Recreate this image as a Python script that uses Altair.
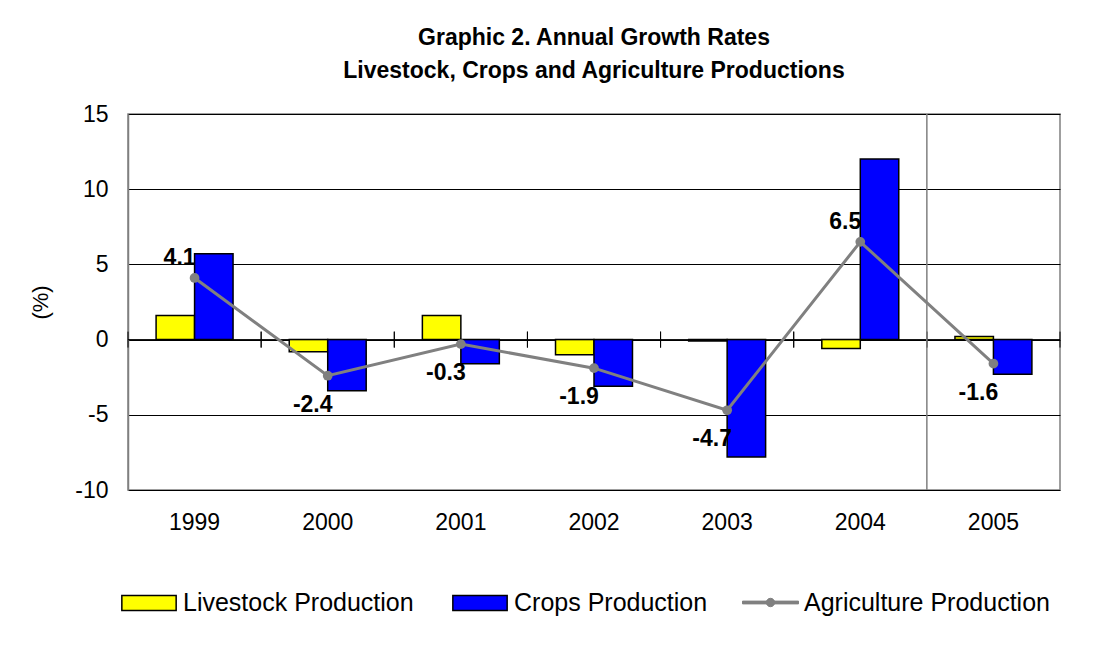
import math
import altair as alt
import pandas as pd

years = ["1999", "2000", "2001", "2002", "2003", "2004", "2005"]
livestock = [1.6, -0.8, 1.6, -1.0, -0.1, -0.6, 0.2]
crops = [5.7, -3.4, -1.6, -3.1, -7.8, 12.0, -2.3]
agriculture = [4.1, -2.4, -0.3, -1.9, -4.7, 6.5, -1.6]
series = ["Livestock Production", "Crops Production", "Agriculture Production"]
y_ticks = [-10, -5, 0, 5, 10, 15]
boundary_year = ["2005"]
title_lines = ["Graphic 2. Annual Growth Rates", "Livestock, Crops and Agriculture Productions"]

FONT = "Liberation Sans"
GRAY = "#808080"
TICK_HALF = 0.53  # half-length of the category tick marks on the zero line (in % units)
RECT = "M-0.97,-0.27L0.97,-0.27L0.97,0.27L-0.97,0.27Z"
_dot = " ".join(
    f"{'M' if i == 0 else 'L'}{0.15 * math.cos(2 * math.pi * i / 16):.3f},{0.15 * math.sin(2 * math.pi * i / 16):.3f}"
    for i in range(16)
)
LINEDOT = "M-1,-0.05L1,-0.05L1,0.05L-1,0.05Z " + _dot + " Z"

bars_df = pd.DataFrame({
    "year": years * 2,
    "series": [series[0]] * len(years) + [series[1]] * len(years),
    "value": livestock + crops,
})
agri_df = pd.DataFrame({
    "year": years,
    "series": [series[2]] * len(years),
    "value": agriculture,
    "label": [f"{v:.1f}" for v in agriculture],
})
boundary_df = pd.DataFrame({"year": boundary_year})
years_df = pd.DataFrame({"year": years})
zero_df = pd.DataFrame({"value": [0]})

x_scale = alt.Scale(domain=years, paddingInner=0, paddingOuter=0)
y_scale = alt.Scale(domain=[-10, 15], nice=False, zero=False)

leg_common = dict(title=None, orient="none", legendY=460, direction="horizontal",
                  labelFont=FONT, labelFontSize=25, labelColor="black", labelOffset=5,
                  labelLimit=400, symbolSize=3136, columnPadding=35)

bars = alt.Chart(bars_df).mark_bar(stroke="black", strokeWidth=1.5).encode(
    x=alt.X("year:N", scale=x_scale, sort=years,
            axis=alt.Axis(orient="bottom", title=None, labelFont=FONT, labelFontSize=23,
                          labelColor="black", labelPadding=21, labelAngle=0,
                          ticks=False, domain=False, grid=False)),
    xOffset=alt.XOffset("series:N", sort=series[:2],
                        scale=alt.Scale(domain=series[:2], paddingInner=0, paddingOuter=0.73)),
    y=alt.Y("value:Q", scale=y_scale,
            axis=alt.Axis(values=y_ticks, labelExpr="toString(datum.value)", title="(%)",
                          grid=True, gridColor="black", gridWidth=1, gridOpacity=1,
                          domain=True, domainColor=GRAY, domainWidth=1.5, ticks=False,
                          labelPadding=20, labelFont=FONT, labelFontSize=23,
                          labelColor="black", titleFont=FONT, titleFontSize=22,
                          titleFontWeight="normal", titleColor="black", titlePadding=22)),
    color=alt.Color("series:N", sort=series[:2],
                    scale=alt.Scale(domain=series[:2], range=["#FFFF00", "#0000FF"]),
                    legend=alt.Legend(legendX=-8, symbolType=RECT, symbolStrokeColor="black",
                                      symbolStrokeWidth=1.5, **leg_common)),
)

zero_rule = alt.Chart(zero_df).mark_rule(color="black", strokeWidth=1).encode(
    y=alt.Y("value:Q", scale=y_scale)
)

edge_ticks_left = alt.Chart(years_df).mark_rule(color="black", strokeWidth=1).encode(
    x=alt.X("year:N", scale=x_scale, bandPosition=0),
    y=alt.Y(datum=-TICK_HALF, scale=y_scale),
    y2=alt.Y2(datum=TICK_HALF),
)
edge_ticks_right = alt.Chart(years_df).mark_rule(color="black", strokeWidth=1).encode(
    x=alt.X("year:N", scale=x_scale, bandPosition=1),
    y=alt.Y(datum=-TICK_HALF, scale=y_scale),
    y2=alt.Y2(datum=TICK_HALF),
)

boundary_rule = alt.Chart(boundary_df).mark_rule(color=GRAY, strokeWidth=1.5).encode(
    x=alt.X("year:N", scale=x_scale, bandPosition=0)
)

line = alt.Chart(agri_df).mark_line(color=GRAY, strokeWidth=3).encode(
    x=alt.X("year:N", scale=x_scale),
    y=alt.Y("value:Q", scale=y_scale),
)

points = alt.Chart(agri_df).mark_point(filled=True, size=95, opacity=1).encode(
    x=alt.X("year:N", scale=x_scale),
    y=alt.Y("value:Q", scale=y_scale),
    fill=alt.Fill("series:N", scale=alt.Scale(domain=series[2:], range=[GRAY]),
                  legend=alt.Legend(legendX=614, symbolType=LINEDOT, symbolStrokeColor=GRAY,
                                    symbolStrokeWidth=1, symbolFillColor=GRAY, **leg_common)),
)

text_style = dict(font=FONT, fontSize=23, fontWeight="bold", color="black",
                  align="center", baseline="middle", dx=-15)

labels_pos = alt.Chart(agri_df).transform_filter("datum.value >= 0").mark_text(
    dy=-20, **text_style).encode(
    x=alt.X("year:N", scale=x_scale),
    y=alt.Y("value:Q", scale=y_scale),
    text="label:N",
)
labels_neg = alt.Chart(agri_df).transform_filter("datum.value < 0").mark_text(
    dy=29, **text_style).encode(
    x=alt.X("year:N", scale=x_scale),
    y=alt.Y("value:Q", scale=y_scale),
    text="label:N",
)

chart = alt.layer(
    bars, zero_rule, edge_ticks_left, edge_ticks_right, boundary_rule,
    line, points, labels_pos, labels_neg
).properties(
    width=932,
    height=376,
    autosize=alt.AutoSizeParams(type="none"),
    padding={"left": 120, "top": 106, "right": 40, "bottom": 150},
    background="white",
    title=alt.TitleParams(text=title_lines, font=FONT, fontSize=23, fontWeight="bold",
                          color="black", lineHeight=33, anchor="middle", frame="group",
                          offset=20),
).configure_view(stroke=GRAY, strokeWidth=1.5)

chart.save("out.html", embed_options={"renderer": "svg", "actions": False})
